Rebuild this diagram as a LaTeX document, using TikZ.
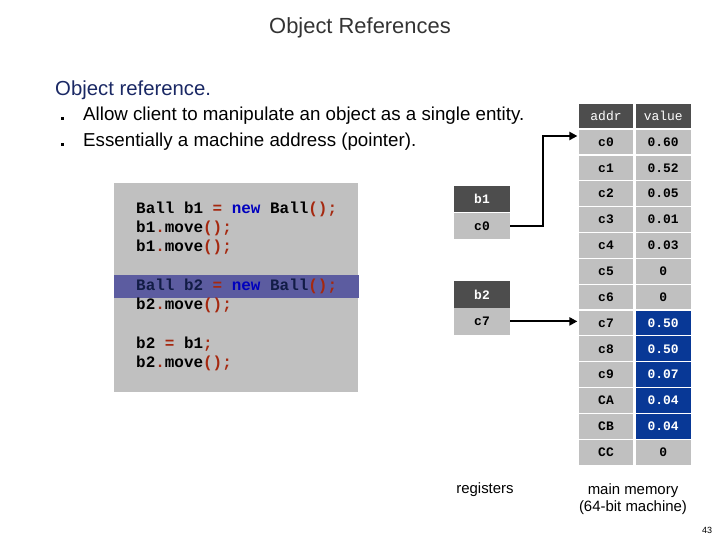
\documentclass[tikz,border=0pt]{standalone}
\usepackage{fontspec}
\setmainfont{Liberation Sans}
\setmonofont{Liberation Mono}
\usepackage{tikz}
\usetikzlibrary{positioning}
\usetikzlibrary{arrows.meta}
\definecolor{hdrgray}{RGB}{77,77,77}
\definecolor{cellgray}{RGB}{192,192,192}
\definecolor{hotblue}{RGB}{8,56,150}
\definecolor{bandblue}{RGB}{92,92,160}
\definecolor{navytext}{RGB}{26,40,100}
\definecolor{kwblue}{RGB}{0,0,190}
\definecolor{symred}{RGB}{165,40,15}
\newcommand{\memfont}{\ttfamily\fontsize{13}{13}\selectfont}
\newcommand{\kw}[1]{\textcolor{kwblue}{#1}}
\newcommand{\sy}[1]{\textcolor{symred}{#1}}

\begin{document}
\begin{tikzpicture}[x=1bp, y=-1bp, >=stealth,
    hdr/.style={fill=hdrgray, draw=white, line width=1.2bp, text=white,
        minimum width=56bp, minimum height=25.85bp, inner sep=0pt, font=\memfont},
    cell/.style={hdr, fill=cellgray, text=black, font=\memfont\bfseries},
    hot/.style={cell, fill=hotblue, text=white},
    reg/.style={fill=hdrgray, text=white, minimum width=56bp, minimum height=26.5bp,
        inner sep=0pt, font=\memfont\bfseries},
    regval/.style={reg, fill=cellgray, text=black},
    codeline/.style={anchor=west, inner sep=0pt, font=\ttfamily\bfseries\fontsize{16}{16}\selectfont},
    ptr/.style={line width=2.2bp, -{Triangle[length=8bp,width=8bp]}},
    caption/.style={font=\fontsize{15}{17}\selectfont, align=center}]
        \useasboundingbox (0,0) rectangle (720,540);

        % Title and bullets
        \node[font=\fontsize{22}{22}\selectfont, text=black!80] (title) at (360,28) {Object References};
        \node[anchor=west, inner sep=0pt, font=\fontsize{20.4}{20.4}\selectfont, text=navytext] (head) at (55,90) {Object reference.};
        \node[anchor=west, inner sep=0pt, font=\fontsize{18.8}{18.8}\selectfont] (item1) at (83,116) {Allow client to manipulate an object as a single entity.};
        \node[anchor=west, inner sep=0pt, font=\fontsize{18.8}{18.8}\selectfont] (item2) at (83,142) {Essentially a machine address (pointer).};
        \fill (61,117) rectangle (64,120);
        \fill (61,143) rectangle (64,146);

        % Client code
        \fill[cellgray] (114,183) rectangle (358,392);
        \fill[bandblue] (114,275) rectangle (359,298);
        \node[codeline] (l1) at (136,209) {Ball b1 \sy{=} \kw{new} Ball\sy{();}};
        \node[codeline] (l2) at (136,228) {b1\sy{.}move\sy{();}};
        \node[codeline] (l3) at (136,247) {b1\sy{.}move\sy{();}};
        \node[codeline] (l4) at (136,286) {\textcolor{navytext!70!black}{Ball b2} \sy{=} \kw{new} \textcolor{navytext!70!black}{Ball}\sy{();}};
        \node[codeline] (l5) at (136,305) {b2\sy{.}move\sy{();}};
        \node[codeline] (l6) at (136,344) {b2 \sy{=} b1\sy{;}};
        \node[codeline] (l7) at (136,363) {b2\sy{.}move\sy{();}};

        % Registers
        \node[reg] (b1) at (482,199) {b1};
        \node[regval, below=0pt of b1] (b1v) {c0};
        \node[reg] (b2) at (482,294.5) {b2};
        \node[regval, below=0pt of b2] (b2v) {c7};

        % Main memory
        \node[hdr] (ha) at (606,116) {addr};
        \node[hdr, right=0pt of ha] (hv) {value};
        \foreach \a/\v/\s [count=\i from 0] in {c0/0.60/cell, c1/0.52/cell, c2/0.05/cell,
            c3/0.01/cell, c4/0.03/cell, c5/0/cell, c6/0/cell, c7/0.50/hot, c8/0.50/hot,
            c9/0.07/hot, CA/0.04/hot, CB/0.04/hot, CC/0/cell} {
            \node[cell] (m\i a) at (606,{142+25.85*\i}) {\a};
            \node[\s, right=0pt of m\i a] (m\i v) {\v};
        }

        % Pointers
        \draw[ptr] (b1v.east) -- ++(33,0) |- ([yshift=6bp]m0a.west);
        \draw[ptr] (b2v.east) -- (b2v.east -| m7a.west);

        % Captions
        \node[caption] (regs) at (485,490) {registers};
        \node[caption] (mem) at (633,499.5) {main memory\\(64-bit machine)};
        \node[font=\fontsize{9}{9}\selectfont] (page) at (707,530) {43};
    \end{tikzpicture}
\end{document}
